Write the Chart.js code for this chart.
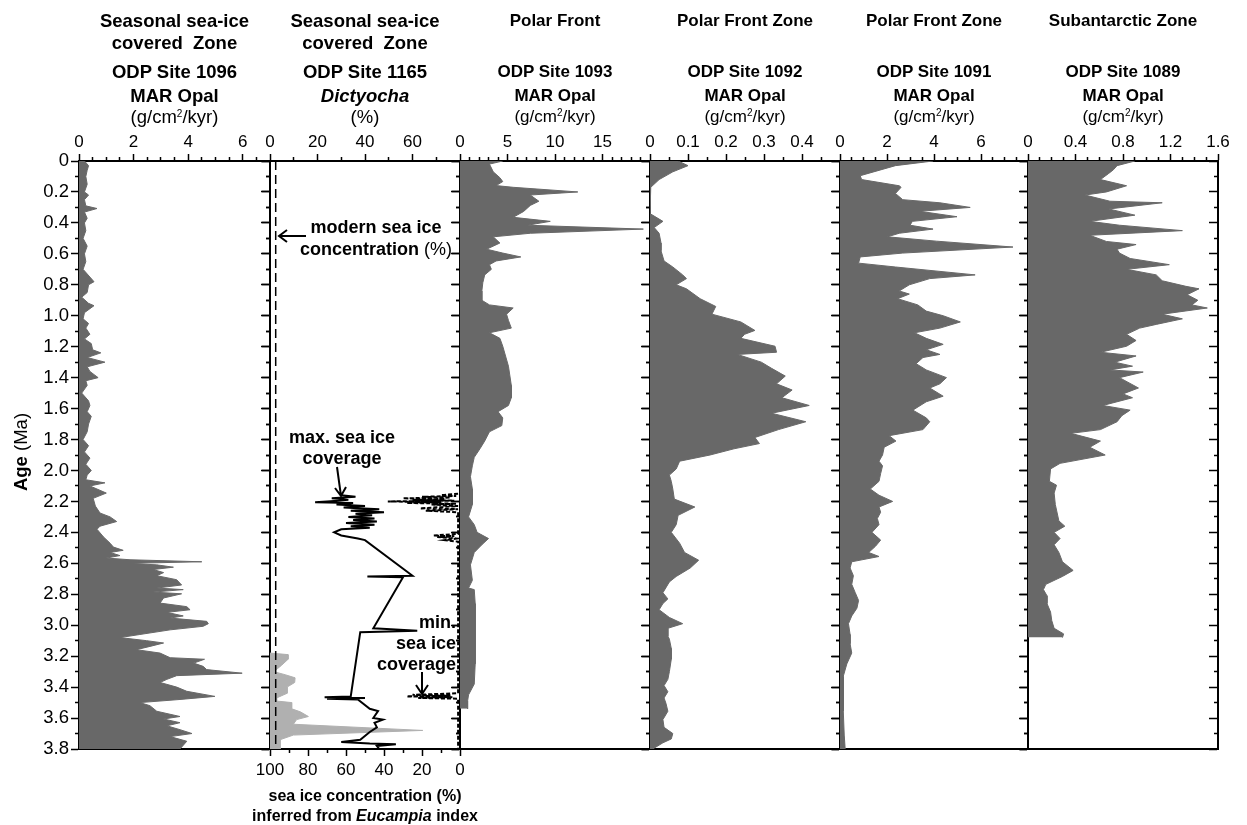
<!DOCTYPE html>
<html>
<head>
<meta charset="utf-8">
<title>Southern Ocean opal records</title>
<script src="https://cdn.jsdelivr.net/npm/chart.js@4.4.1/dist/chart.umd.min.js"></script>
<style>
  body { margin: 0; background: #fff; }
  #wrap { position: relative; width: 1247px; height: 825px; overflow: hidden; font-family: "Liberation Sans", Arial, sans-serif; color: #000; }
  #wrap canvas { position: absolute; left: 0; top: 0; }
  .lbl { position: absolute; width: 300px; text-align: center; font-size: 17px; font-weight: bold; line-height: 20px; white-space: nowrap; z-index: 2; }
  .lbl.r { text-align: right; }
  .lbl.big { font-size: 18.5px; }
  .lbl.ann { font-size: 18px; }
  .lbl.sm { font-size: 16px; }
  .n { font-weight: normal; }
  sup { font-size: 10px; vertical-align: 6px; line-height: 0; }
  #age { position: absolute; left: -39px; top: 442px; width: 120px; text-align: center; font-size: 18.5px; line-height: 20px; transform: rotate(-90deg); z-index: 2; }
  #arrows { position: absolute; left: 0; top: 0; z-index: 3; }
</style>
</head>
<body>
<div id="wrap">
  <div id="age"><b>Age</b> (Ma)</div>
  <svg id="arrows" width="1247" height="825">
    <g stroke="#000" stroke-width="2" fill="none">
      <path d="M306 236 H279 M287 230 L279 236 L287 242"/>
      <path d="M337 467 L341 496 M335 488 L341 496 L346 487"/>
      <path d="M422 672 V694 M416 685 L422 694 L428 685"/>
    </g>
  </svg>
</div>
<script>
const SANS = "'Liberation Sans', Arial, sans-serif";
Chart.defaults.font.family = SANS;
Chart.defaults.color = '#000';

// --- data ---
const ageMajor = [0, 0.2, 0.4, 0.6, 0.8, 1.0, 1.2, 1.4, 1.6, 1.8, 2.0, 2.2, 2.4, 2.6, 2.8, 3.0, 3.2, 3.4, 3.6, 3.8];
const ageMinor = [0.1, 0.3, 0.5, 0.7, 0.9, 1.1, 1.3, 1.5, 1.7, 1.9, 2.1, 2.3, 2.5, 2.7, 2.9, 3.1, 3.3, 3.5, 3.7];

// ODP 1096, MAR opal (g/cm2/kyr)
const age1096 = [0, 0.03, 0.06, 0.1, 0.15, 0.2, 0.22, 0.25, 0.29, 0.307,
  0.33, 0.37, 0.4, 0.45, 0.5, 0.55, 0.6, 0.65, 0.7, 0.75,
  0.78, 0.8, 0.85, 0.88, 0.92, 0.935, 0.98, 1.02, 1.05, 1.08,
  1.12, 1.15, 1.18, 1.22, 1.24, 1.27, 1.30, 1.33, 1.36, 1.40,
  1.42, 1.45, 1.5, 1.55, 1.58, 1.62, 1.65, 1.7, 1.75, 1.8,
  1.84, 1.88, 1.92, 1.96, 2.0, 2.03, 2.06, 2.08, 2.10, 2.146,
  2.18, 2.23, 2.275, 2.30, 2.33, 2.36, 2.38, 2.43, 2.47, 2.495,
  2.516, 2.53, 2.55, 2.566, 2.577, 2.59, 2.60, 2.61, 2.625, 2.64,
  2.66, 2.68, 2.706, 2.74, 2.76, 2.77, 2.786, 2.797, 2.824, 2.857,
  2.88, 2.90, 2.917, 2.94, 2.954, 2.975, 2.99, 3.007, 3.03, 3.06,
  3.08, 3.10, 3.115, 3.137, 3.158, 3.18, 3.21, 3.22, 3.245, 3.266,
  3.287, 3.31, 3.326, 3.35, 3.37, 3.40, 3.427, 3.46, 3.48, 3.50,
  3.52, 3.556, 3.59, 3.606, 3.63, 3.65, 3.675, 3.70, 3.72, 3.75,
  3.80];
const opal1096 = [0.2, 0.35, 0.3, 0.25, 0.3, 0.2, 0.35, 0.2, 0.25, 0.66,
  0.2, 0.3, 0.2, 0.25, 0.15, 0.3, 0.2, 0.25, 0.15, 0.4,
  0.55, 0.35, 0.3, 0.1, 0.35, 0.55, 0.2, 0.15, 0.35, 0.25,
  0.4, 0.2, 0.45, 0.5, 0.8, 0.3, 0.95, 0.3, 0.4, 0.7,
  0.25, 0.3, 0.1, 0.35, 0.4, 0.3, 0.45, 0.35, 0.3, 0.15,
  0.35, 0.2, 0.4, 0.25, 0.45, 0.3, 0.25, 0.95, 0.4, 1.0,
  0.52, 0.6, 0.77, 1.14, 1.38, 0.77, 0.66, 0.9, 1.14, 1.26,
  1.62, 1.14, 1.5, 1.0, 1.87, 4.5, 1.87, 2.85, 3.46, 2.72,
  3.1, 2.85, 3.58, 3.76, 2.85, 3.82, 2.72, 3.76, 3.1, 2.97,
  3.95, 4.07, 3.22, 3.82, 3.34, 4.68, 4.74, 4.55, 3.34, 2.23,
  1.5, 2.48, 3.1, 2.6, 2.1, 2.97, 3.34, 4.6, 4.2, 4.55,
  4.68, 5.98, 3.58, 3.22, 2.97, 3.58, 3.95, 4.98, 3.7, 2.23,
  2.6, 2.85, 3.7, 3.1, 3.7, 3.22, 3.7, 4.14, 3.34, 3.95,
  3.7];

// ODP 1165, Dictyocha (%)
const ageDict = [2.16, 2.17, 2.18, 2.19, 2.20, 2.205, 2.21, 2.22, 2.23, 2.24,
  2.25, 2.26, 2.27, 2.28, 2.29, 2.30, 2.31, 2.32, 2.33, 2.34,
  2.35, 2.36, 2.37, 2.38, 2.40, 2.42, 2.44, 2.45, 2.68, 2.685,
  2.69, 3.02, 3.035, 3.045, 3.46, 3.465, 3.47, 3.475, 3.48, 3.54,
  3.555, 3.60, 3.61, 3.63, 3.66, 3.69, 3.74, 3.755, 3.765, 3.77,
  3.78, 3.80];
const dictyocha = [30, 36, 26, 33, 24, 19, 35, 28, 40, 31,
  46, 34, 48, 36, 43, 33, 44, 35, 45, 32,
  44, 34, 42, 30, 27, 30, 37, 40, 60, 41,
  56, 43.5, 62, 38, 34, 23, 40, 24, 37, 42,
  45.5, 43.5, 47.5, 44, 45, 42, 38, 30, 42, 53,
  45, 46];

// ODP 1165, sea ice concentration (%) inferred from Eucampia index
const ageSeaIce = [2.15, 2.16, 2.165, 2.17, 2.175, 2.18, 2.185, 2.19, 2.195, 2.20,
  2.205, 2.21, 2.215, 2.22, 2.23, 2.245, 2.25, 2.26, 2.27, 2.41,
  2.42, 2.425, 2.43, 2.44, 2.45, 2.46, 3.44, 3.45, 3.455, 3.46,
  3.465, 3.47, 3.475, 3.48, 3.80];
const seaIce = [1, 10, 2, 20, 5, 30, 8, 25, 3, 38,
  10, 28, 2, 15, 1, 21, 1, 18, 1, 1,
  14, 3, 12, 2, 8, 1, 1, 25, 5, 28,
  4, 22, 1, 1, 1];
const ageEuc = [3.18, 3.19, 3.22, 3.26, 3.30, 3.32, 3.34, 3.37, 3.40, 3.44,
  3.47, 3.49, 3.50, 3.54, 3.56, 3.59, 3.61, 3.64, 3.68, 3.71,
  3.74, 3.80];
const eucampia = [100, 90.5, 90.5, 94, 98, 92, 86.8, 87, 91, 91,
  96.5, 96.5, 88.6, 88.6, 84, 79.8, 86, 87.7, 19.6, 87.7,
  94.7, 94.7];
const modernSeaIce = 97;

// ODP 1093
const age1093 = [0, 0.02, 0.07, 0.108, 0.133, 0.159, 0.17, 0.2, 0.22, 0.26,
  0.287, 0.326, 0.364, 0.39, 0.415, 0.44, 0.467, 0.49, 0.53, 0.57,
  0.595, 0.62, 0.646, 0.67, 0.70, 0.736, 0.787, 0.84, 0.90, 0.93,
  0.95, 0.99, 1.03, 1.08, 1.11, 1.146, 1.197, 1.326, 1.45, 1.53,
  1.58, 1.62, 1.66, 1.71, 1.75, 1.81, 1.86, 1.915, 1.97, 2.04,
  2.12, 2.22, 2.30, 2.35, 2.40, 2.44, 2.48, 2.53, 2.61, 2.71,
  2.76, 2.77, 2.86, 2.99, 3.12, 3.25, 3.38, 3.45, 3.49, 3.54];
const opal1093 = [4.5, 3.1, 3.5, 4.2, 4.5, 3.8, 5.6, 12.4, 7.4, 8.3,
  7.4, 6.7, 5.6, 9.5, 7.1, 19.3, 7.4, 3.5, 4.2, 2.8,
  4.5, 6.4, 3.8, 3.1, 3.3, 2.6, 2.4, 2.3, 2.3, 3.1,
  5.6, 4.9, 5.1, 5.4, 3.1, 4.2, 4.5, 5.1, 5.4, 5.4,
  5.1, 4.0, 4.5, 4.4, 3.1, 2.6, 2.1, 1.5, 1.3, 1.1,
  1.3, 1.3, 0.9, 1.5, 1.8, 3.0, 2.3, 1.5, 1.1, 1.3,
  0.9, 1.5, 1.6, 1.6, 1.6, 1.6, 1.5, 0.9, 0.8, 0.8];

// ODP 1092
const age1092 = [0, 0.03, 0.07, 0.12, 0.17, 0.185, 0.34, 0.39, 0.43, 0.467,
  0.53, 0.58, 0.646, 0.685, 0.736, 0.76, 0.80, 0.826, 0.89, 0.94,
  0.99, 1.04, 1.095, 1.12, 1.146, 1.197, 1.236, 1.25, 1.30, 1.34,
  1.39, 1.44, 1.48, 1.53, 1.58, 1.63, 1.685, 1.736, 1.787, 1.826,
  1.86, 1.90, 1.94, 1.99, 2.03, 2.07, 2.12, 2.185, 2.236, 2.29,
  2.35, 2.40, 2.47, 2.53, 2.58, 2.63, 2.685, 2.72, 2.79, 2.83,
  2.86, 2.90, 2.95, 2.99, 3.02, 3.07, 3.09, 3.15, 3.22, 3.30,
  3.35, 3.39, 3.43, 3.47, 3.505, 3.556, 3.61, 3.66, 3.70, 3.735,
  3.76, 3.80];
const opal1092 = [0.074, 0.10, 0.06, 0.024, 0.002, 0, 0, 0.034, 0.011, 0.024,
  0.029, 0.029, 0.037, 0.06, 0.086, 0.096, 0.069, 0.096, 0.132, 0.173,
  0.163, 0.239, 0.276, 0.249, 0.239, 0.329, 0.333, 0.23, 0.293, 0.32,
  0.356, 0.333, 0.374, 0.347, 0.419, 0.32, 0.41, 0.338, 0.276, 0.288,
  0.221, 0.158, 0.078, 0.069, 0.051, 0.056, 0.06, 0.064, 0.118, 0.074,
  0.069, 0.056, 0.078, 0.091, 0.128, 0.106, 0.069, 0.051, 0.034, 0.047,
  0.034, 0.024, 0.051, 0.086, 0.047, 0.047, 0.051, 0.056, 0.056, 0.051,
  0.047, 0.037, 0.047, 0.037, 0.042, 0.047, 0.034, 0.037, 0.06, 0.056,
  0.034, 0.007];

// ODP 1091
const age1091 = [0, 0.03, 0.095, 0.12, 0.16, 0.17, 0.21, 0.25, 0.27, 0.30,
  0.325, 0.36, 0.39, 0.415, 0.44, 0.467, 0.49, 0.518, 0.556, 0.595,
  0.62, 0.66, 0.685, 0.736, 0.76, 0.80, 0.84, 0.86, 0.89, 0.93,
  0.97, 1.0, 1.04, 1.08, 1.11, 1.146, 1.185, 1.22, 1.25, 1.27,
  1.31, 1.35, 1.40, 1.44, 1.467, 1.52, 1.556, 1.61, 1.66, 1.685,
  1.736, 1.775, 1.81, 1.85, 1.90, 1.94, 1.97, 2.02, 2.07, 2.12,
  2.16, 2.2, 2.236, 2.27, 2.31, 2.35, 2.40, 2.45, 2.49, 2.53,
  2.556, 2.59, 2.63, 2.68, 2.736, 2.79, 2.84, 2.89, 2.94, 2.99,
  3.06, 3.12, 3.18, 3.25, 3.33, 3.43, 3.556, 3.71, 3.80];
const opal1091 = [3.96, 2.36, 0.86, 0.92, 2.52, 2.6, 2.36, 2.67, 4.25, 5.54,
  3.39, 4.98, 3.08, 2.98, 3.96, 2.52, 2.02, 4.1, 7.36, 2.67,
  0.86, 0.79, 2.36, 5.75, 3.82, 2.95, 2.52, 2.95, 2.45, 3.31,
  3.67, 4.39, 5.12, 4.25, 3.17, 3.67, 4.39, 3.67, 4.25, 3.53,
  3.24, 3.67, 4.53, 4.25, 3.82, 4.39, 3.67, 3.1, 3.67, 3.82,
  3.53, 2.09, 2.38, 1.88, 1.81, 1.66, 1.81, 1.73, 1.66, 1.29,
  1.66, 2.24, 1.66, 1.73, 1.59, 1.66, 1.36, 1.73, 1.51, 1.22,
  1.66, 0.5, 0.43, 0.57, 0.5, 0.65, 0.79, 0.72, 0.5, 0.36,
  0.43, 0.43, 0.5, 0.29, 0.14, 0.14, 0.14, 0.18, 0.22];

// ODP 1089
const age1089 = [0, 0.03, 0.056, 0.08, 0.12, 0.16, 0.20, 0.22, 0.26, 0.27,
  0.31, 0.35, 0.39, 0.415, 0.45, 0.48, 0.52, 0.54, 0.57, 0.595,
  0.63, 0.67, 0.70, 0.736, 0.774, 0.81, 0.826, 0.864, 0.90, 0.93,
  0.95, 0.99, 1.02, 1.056, 1.08, 1.12, 1.16, 1.197, 1.236, 1.26,
  1.30, 1.326, 1.35, 1.364, 1.40, 1.467, 1.505, 1.53, 1.58, 1.61,
  1.646, 1.685, 1.736, 1.76, 1.81, 1.85, 1.90, 1.954, 1.99, 2.07,
  2.095, 2.146, 2.22, 2.326, 2.36, 2.40, 2.44, 2.48, 2.53, 2.59,
  2.646, 2.685, 2.736, 2.77, 2.81, 2.86, 2.915, 2.97, 3.02, 3.056,
  3.08];
const opal1089 = [0.9, 0.75, 0.72, 0.68, 0.61, 0.83, 0.66, 0.48, 0.69, 1.13,
  0.68, 0.9, 0.52, 0.77, 1.30, 0.52, 0.66, 0.91, 0.75, 0.77,
  0.86, 1.19, 0.83, 1.08, 1.13, 1.33, 1.44, 1.34, 1.43, 1.38,
  1.51, 1.13, 1.30, 1.08, 0.94, 0.83, 0.91, 0.83, 0.61, 0.91,
  0.73, 0.88, 0.69, 0.97, 0.77, 0.93, 0.80, 0.88, 0.63, 0.86,
  0.79, 0.75, 0.61, 0.36, 0.61, 0.52, 0.65, 0.27, 0.19, 0.18,
  0.24, 0.22, 0.23, 0.26, 0.31, 0.22, 0.27, 0.22, 0.26, 0.29,
  0.38, 0.29, 0.15, 0.13, 0.16, 0.16, 0.19, 0.20, 0.22, 0.30,
  0.29];

// axis ticks per panel
const ticks1096 = [0, 2, 4, 6];
const minor1096 = [0.5, 1, 1.5, 2.5, 3, 3.5, 4.5, 5, 5.5, 6.5];
const ticks1165 = [0, 20, 40, 60];
const minor1165 = [10, 30, 50, 70];
const ticksIce = [100, 80, 60, 40, 20, 0];
const minorIce = [90, 70, 50, 30, 10];
const ticks1093 = [0, 5, 10, 15];
const minor1093 = [1, 2, 3, 4, 6, 7, 8, 9, 11, 12, 13, 14, 16, 17, 18, 19];
const ticks1092 = [0, 0.1, 0.2, 0.3, 0.4];
const minor1092 = [0.05, 0.15, 0.25, 0.35, 0.45];
const ticks1091 = [0, 2, 4, 6];
const minor1091 = [0.5, 1, 1.5, 2.5, 3, 3.5, 4.5, 5, 5.5, 6.5, 7, 7.5];
const ticks1089 = [0, 0.4, 0.8, 1.2, 1.6];
const minor1089 = [0.1, 0.2, 0.3, 0.5, 0.6, 0.7, 0.9, 1.0, 1.1, 1.3, 1.4, 1.5];

// header texts
const zones = ['Seasonal sea-ice', 'Seasonal sea-ice', 'Polar Front', 'Polar Front Zone', 'Polar Front Zone', 'Subantarctic Zone'];
const sites = ['ODP Site 1096', 'ODP Site 1165', 'ODP Site 1093', 'ODP Site 1092', 'ODP Site 1091', 'ODP Site 1089'];

// --- layout ---
const PAGE_W = 1247, PAGE_H = 825, TOP = 161, BOTTOM = 749;
const panelLeft = [79, 270, 460, 650, 840, 1028];
const panelRight = [270, 460, 650, 840, 1028, 1218];
const DARK = '#686868';
const LIGHT = '#b0b0b0';

const wrap = document.getElementById('wrap');

function pts(ages, vals) {
  return ages.map((a, i) => ({x: vals[i], y: a}));
}
function setTicks(list) {
  return s => { s.ticks = list.map(v => ({value: v})); };
}
function fixSize(prop, n) {
  return s => { s[prop] = n; };
}
function tickGrid(len) {
  return {drawOnChartArea: false, drawTicks: true, tickLength: len, tickWidth: 1.5, tickColor: '#000'};
}
function opalSet(ages, vals) {
  return {data: pts(ages, vals), backgroundColor: DARK, borderColor: DARK, borderWidth: 1, fill: {value: 0}};
}

function addText(html, cx, cy, cls) {
  const d = document.createElement('div');
  d.className = 'lbl' + (cls ? ' ' + cls : '');
  d.innerHTML = html;
  d.style.left = (cls && cls.indexOf('r') === 0 ? cx - 300 : cx - 150) + 'px';
  d.style.top = (cy - 10) + 'px';
  wrap.appendChild(d);
}

function makePanel(i, p) {
  const canvas = document.createElement('canvas');
  canvas.width = PAGE_W;
  canvas.height = PAGE_H;
  wrap.appendChild(canvas);

  const leftW = p.yLabels ? 60 : 8;
  const topH = 30;
  const bottomH = p.bottom ? 30 : 0;
  const font = {family: SANS, size: 17};
  const yBase = {type: 'linear', axis: 'y', min: 0, max: 3.8, reverse: true};

  const scales = {
    x: {type: 'linear', position: 'top', min: 0, max: p.xMax, weight: 1,
      afterBuildTicks: setTicks(p.xMajor), afterFit: fixSize('height', topH),
      ticks: {font, color: '#000', padding: 1, autoSkip: false, maxRotation: 0, callback: v => String(v)},
      grid: tickGrid(7), border: {color: '#000', width: 2}},
    xm: {type: 'linear', position: 'top', min: 0, max: p.xMax, weight: 0,
      afterBuildTicks: setTicks(p.xMinor), afterFit: fixSize('height', 0),
      ticks: {display: false}, grid: tickGrid(4), border: {display: false}},
    y: {...yBase, position: 'left', weight: 1,
      afterBuildTicks: setTicks(ageMajor), afterFit: fixSize('width', leftW),
      ticks: {display: !!p.yLabels, font: {family: SANS, size: 18.5}, color: '#000', padding: 2, autoSkip: false,
        callback: v => v === 0 ? '0' : v.toFixed(1)},
      grid: tickGrid(8), border: {color: '#000', width: 2}},
    ym: {...yBase, position: 'left', weight: 0,
      afterBuildTicks: setTicks(ageMinor), afterFit: fixSize('width', 0),
      ticks: {display: false}, grid: tickGrid(4), border: {display: false}},
    yr: {...yBase, position: {x: p.xMax},
      afterBuildTicks: setTicks(ageMajor),
      ticks: {display: false}, grid: tickGrid(8), border: {color: '#000', width: 2}},
    yrm: {...yBase, position: {x: p.xMax},
      afterBuildTicks: setTicks(ageMinor),
      ticks: {display: false}, grid: tickGrid(4), border: {display: false}}
  };

  if (p.bottom) {
    scales.xb = {type: 'linear', position: 'bottom', min: 0, max: 100, reverse: true, weight: 1,
      afterBuildTicks: setTicks(p.bottom.major), afterFit: fixSize('height', bottomH),
      ticks: {font, color: '#000', padding: 4, autoSkip: false, maxRotation: 0, callback: v => String(v)},
      grid: tickGrid(7), border: {color: '#000', width: 2}};
    scales.xbm = {type: 'linear', position: 'bottom', min: 0, max: 100, reverse: true, weight: 0,
      afterBuildTicks: setTicks(p.bottom.minor), afterFit: fixSize('height', 0),
      ticks: {display: false}, grid: tickGrid(4), border: {display: false}};
  } else {
    scales.xb = {type: 'linear', position: 'bottom', min: 0, max: p.xMax,
      afterFit: fixSize('height', 0),
      ticks: {display: false}, grid: {drawOnChartArea: false, drawTicks: false},
      border: {color: '#000', width: 2}};
  }

  new Chart(canvas, {
    type: 'line',
    data: {datasets: p.datasets},
    options: {
      responsive: false,
      animation: false,
      indexAxis: 'y',
      events: [],
      layout: {padding: {left: panelLeft[i] - leftW, right: PAGE_W - panelRight[i], top: TOP - topH, bottom: PAGE_H - BOTTOM - bottomH}},
      plugins: {legend: {display: false}, tooltip: {enabled: false}},
      elements: {point: {radius: 0}, line: {tension: 0}},
      scales
    }
  });
}

makePanel(0, {xMax: 7, xMajor: ticks1096, xMinor: minor1096, yLabels: true,
  datasets: [opalSet(age1096, opal1096)]});

makePanel(1, {xMax: 80, xMajor: ticks1165, xMinor: minor1165,
  bottom: {major: ticksIce, minor: minorIce},
  datasets: [
    {data: pts(ageDict, dictyocha), xAxisID: 'x', borderColor: '#000', borderWidth: 2, fill: false},
    {data: pts(ageSeaIce, seaIce), xAxisID: 'xb', borderColor: '#000', borderWidth: 2, borderDash: [4, 2], fill: false},
    {data: [{x: modernSeaIce, y: 0}, {x: modernSeaIce, y: 3.8}], xAxisID: 'xb', borderColor: '#000', borderWidth: 1.5, borderDash: [9, 5], fill: false},
    {data: pts(ageEuc, eucampia), xAxisID: 'xb', backgroundColor: LIGHT, borderColor: LIGHT, borderWidth: 1, fill: {value: 100}}
  ]});

makePanel(2, {xMax: 20, xMajor: ticks1093, xMinor: minor1093, datasets: [opalSet(age1093, opal1093)]});
makePanel(3, {xMax: 0.5, xMajor: ticks1092, xMinor: minor1092, datasets: [opalSet(age1092, opal1092)]});
makePanel(4, {xMax: 8, xMajor: ticks1091, xMinor: minor1091, datasets: [opalSet(age1091, opal1091)]});
makePanel(5, {xMax: 1.6, xMajor: ticks1089, xMinor: minor1089, datasets: [opalSet(age1089, opal1089)]});

// headers
const unit = '<span class="n">(g/cm<sup>2</sup>/kyr)</span>';
for (let i = 0; i < 6; i++) {
  const cx = (panelLeft[i] + panelRight[i]) / 2;
  const cls = i < 2 ? 'big' : '';
  addText(zones[i], cx, 21, cls);
  if (i < 2) addText('covered&nbsp; Zone', cx, 43, cls);
  addText(sites[i], cx, 72, cls);
  addText(i === 1 ? '<i>Dictyocha</i>' : 'MAR Opal', cx, 96, cls);
  addText(i === 1 ? '<span class="n">(%)</span>' : unit, cx, 117, cls);
}

// annotations
addText('modern sea ice', 376, 227, 'ann');
addText('concentration <span class="n">(%)</span>', 376, 249, 'ann');
addText('max. sea ice', 342, 437, 'ann');
addText('coverage', 342, 458, 'ann');
addText('min.', 456, 622, 'r ann');
addText('sea ice', 456, 643, 'r ann');
addText('coverage', 456, 664, 'r ann');
addText('sea ice concentration (%)', 365, 796, 'sm');
addText('inferred from <i>Eucampia</i> index', 365, 816, 'sm');
</script>
</body>
</html>
